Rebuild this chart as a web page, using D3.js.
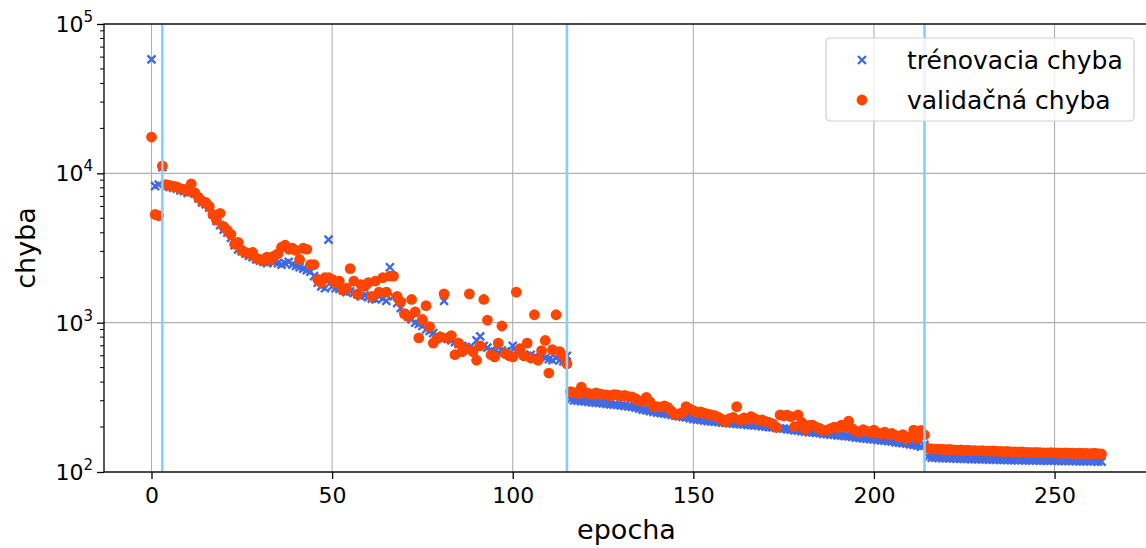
<!DOCTYPE html>
<html>
<head>
<meta charset="utf-8">
<script src="https://cdn.jsdelivr.net/npm/d3@7"></script>
<style>
  body { margin: 0; background: #fff; }
  svg { font-family: 'DejaVu Sans', sans-serif; }
</style>
</head>
<body>
<svg id="chart" width="1146" height="548"></svg>
<script>
// data
const trainErr = [
  58000, 8200, 8400, 11000, 8200, 8100, 8000, 7900, 7700, 7600,
  7400, 7500, 7300, 6800, 6400, 6200, 5900, 5300, 4800, 4500,
  4200, 4000, 3700, 3300, 3100, 3000, 2900, 2800, 2750, 2650,
  2600, 2550, 2500, 2600, 2550, 2500, 2450, 2500, 2550, 2450,
  2400, 2350, 2300, 2250, 2200, 2050, 1850, 1750, 1700, 3600,
  1750, 1700, 1680, 1650, 1600, 1620, 1580, 1550, 1500, 1520,
  1480, 1450, 1430, 1500, 1450, 1400, 2350, 1500, 1350, 1250,
  1150, 1100, 1050, 1000, 980, 950, 900, 880, 850, 820,
  800, 1400, 780, 760, 740, 720, 700, 690, 680, 670,
  760, 810, 700, 680, 650, 640, 630, 650, 640, 620,
  700, 640, 620, 610, 600, 610, 590, 580, 600, 580,
  570, 560, 580, 560, 550, 600, 305, 302, 300, 298,
  297, 295, 293, 291, 290, 288, 286, 284, 283, 281,
  279, 277, 275, 273, 270, 266, 262, 259, 256, 253,
  250, 248, 246, 244, 241, 238, 236, 234, 232, 229,
  226, 224, 223, 221, 219, 218, 217, 216, 214, 213,
  212, 211, 210, 209, 208, 207, 206, 205, 204, 202,
  201, 200, 199, 197, 196, 195, 193, 192, 190, 189,
  188, 186, 185, 184, 183, 182, 180, 179, 178, 177,
  176, 175, 174, 173, 172, 170, 169, 168, 167, 166,
  165, 164, 163, 162, 161, 160, 158, 157, 156, 155,
  153, 152, 150, 148, 152, 126, 125, 125, 124.5, 124,
  124, 123.5, 123.5, 123, 123, 122.5, 122.5, 122, 122, 122,
  121.5, 121.5, 121, 121, 121, 120.5, 120.5, 120.5, 120, 120,
  120, 120, 119.5, 119.5, 119.5, 119.5, 119, 119, 119, 119,
  119, 118.5, 118.5, 118.5, 118.5, 118.5, 118, 118, 118, 118,
  118, 118, 117.5, 117.5
];

const validErr = [
  17500, 5300, 5200, 11200, 8400, 8300, 8200, 8100, 7900, 7800,
  7600, 8500, 7400, 6900, 6500, 6400, 6000, 5300, 4850, 5400,
  4400, 4150, 3900, 3350, 3450, 3050, 2950, 2900, 2950, 2700,
  2650, 2600, 2750, 2650, 2800, 2900, 3200, 3300, 3100, 3150,
  3050, 2650, 3150, 3100, 2450, 2450, 1950, 1850, 2000, 2000,
  1950, 1850, 1900, 1650, 1700, 2300, 1900, 1550, 1800, 1750,
  1850, 1500, 1900, 1600, 2000, 1600, 2050, 2050, 1500, 1380,
  1150, 1100, 1430, 1180, 790, 1050, 1300, 940, 730, 780,
  800, 1560, 790, 820, 610, 730, 640, 670, 1560, 640,
  560, 700, 1430, 1040, 610, 590, 730, 950, 620, 600,
  590, 1600, 670, 600, 730, 580, 1130, 560, 650, 760,
  460, 660, 1130, 640, 600, 530, 345, 340, 335, 370,
  340, 336, 330, 338, 333, 330, 328, 325, 330, 328,
  322, 326, 320, 318, 310, 298, 300, 316, 295, 275,
  274, 272, 277, 270, 255, 242, 245, 250, 274, 265,
  258, 250, 253, 248, 244, 241, 238, 232, 225, 217,
  228, 232, 274, 223, 230, 225, 235, 228, 222, 223,
  218, 215, 210, 199, 241, 238, 240, 235, 201, 241,
  215, 193, 205, 206, 200, 196, 190, 191, 195, 200,
  198, 206, 200, 219, 195, 188, 186, 192, 188, 185,
  191, 183, 180, 185, 178, 181, 176, 172, 178, 166,
  172, 191, 168, 190, 177, 144, 143, 142, 142.5, 141.5,
  141, 141.5, 140.5, 140, 140.5, 139.5, 140, 139, 139, 138.5,
  139, 138, 138, 138.5, 137.5, 137.5, 137, 137.5, 136.5, 136.5,
  136, 136.5, 135.5, 135.5, 135, 135.5, 135, 134.5, 134.5, 135,
  134, 134, 133.5, 134, 133.5, 133.5, 133, 133.5, 133, 133,
  132.5, 133.5, 132.5, 132
];

const epochs = trainErr.map((d, i) => i);
const phaseLines = [3, 115, 214];
const xTicks = [0, 50, 100, 150, 200, 250];
const yTicks = [100, 1000, 10000, 100000];
const legendLabels = ['trénovacia chyba', 'validačná chyba'];

const blue = '#4169e1';
const orange = '#ff4500';
const cross = 'M-4,-4L4,4M-4,4L4,-4';

const svg = d3.select('#chart');
const margin = { left: 104, top: 24, right: -3, bottom: 76 };
const W = 1146, H = 548;

const x = d3.scaleLinear().domain([-13.15, 276.15]).range([margin.left, W - margin.right]);
const y = d3.scaleLog().domain([100, 100000]).range([H - margin.bottom, margin.top]);

// grid
const grid = svg.append('g').attr('stroke', '#b0b0b0').attr('stroke-width', 1.1);
grid.selectAll('line.gx').data(xTicks).join('line')
  .attr('x1', d => x(d)).attr('x2', d => x(d))
  .attr('y1', y.range()[0]).attr('y2', y.range()[1]);
grid.selectAll('line.gy').data(yTicks).join('line')
  .attr('x1', x.range()[0]).attr('x2', x.range()[1])
  .attr('y1', d => y(d)).attr('y2', d => y(d));

// training error: x markers
svg.append('g').selectAll('path').data(epochs).join('path')
  .attr('d', cross)
  .attr('transform', i => `translate(${x(i)},${y(trainErr[i])})`)
  .attr('stroke', blue).attr('stroke-width', 2.4).attr('fill', 'none');

// validation error: dots
svg.append('g').selectAll('circle').data(epochs).join('circle')
  .attr('cx', i => x(i)).attr('cy', i => y(validErr[i])).attr('r', 5.4)
  .attr('fill', orange);

// phase lines
svg.append('g').selectAll('line').data(phaseLines).join('line')
  .attr('x1', d => x(d)).attr('x2', d => x(d))
  .attr('y1', y.range()[0]).attr('y2', y.range()[1])
  .attr('stroke', '#87cefa').attr('stroke-width', 2.6);

// spines
svg.append('rect')
  .attr('x', x.range()[0]).attr('y', y.range()[1])
  .attr('width', x.range()[1] - x.range()[0]).attr('height', y.range()[0] - y.range()[1])
  .attr('fill', 'none').attr('stroke', '#000').attr('stroke-width', 1.3);

// x axis
const xAxis = svg.append('g')
  .attr('transform', `translate(0,${y.range()[0]})`)
  .call(d3.axisBottom(x).tickValues(xTicks).tickSize(7).tickPadding(8));
xAxis.select('.domain').remove();
xAxis.selectAll('line').attr('stroke-width', 1.3);
xAxis.selectAll('text').attr('font-size', 22).attr('font-family', 'DejaVu Sans').attr('fill', '#000');

// y axis: minor ticks
const minor = [];
[100, 1000, 10000].forEach(base => { for (let k = 2; k <= 9; k++) minor.push(base * k); });
svg.append('g').selectAll('line').data(minor).join('line')
  .attr('x1', x.range()[0] - 4).attr('x2', x.range()[0])
  .attr('y1', d => y(d)).attr('y2', d => y(d))
  .attr('stroke', '#000').attr('stroke-width', 1);

const yAxis = svg.append('g')
  .attr('transform', `translate(${x.range()[0]},0)`)
  .call(d3.axisLeft(y).tickValues(yTicks).tickSize(7).tickFormat(''));
yAxis.select('.domain').remove();
yAxis.selectAll('line').attr('stroke-width', 1.3);

const yLab = svg.append('g').selectAll('text').data(yTicks).join('text')
  .attr('x', x.range()[0] - 11).attr('y', d => y(d) + 8)
  .attr('text-anchor', 'end').attr('font-size', 22).attr('fill', '#000');
yLab.append('tspan').text('10');
yLab.append('tspan').attr('font-size', 15).attr('dy', -10).text(d => Math.round(Math.log10(d)));

// axis labels
svg.append('text')
  .attr('x', (x.range()[0] + x.range()[1]) / 2).attr('y', 539)
  .attr('text-anchor', 'middle').attr('font-size', 27).text('epocha');
svg.append('text')
  .attr('transform', `translate(35,${(y.range()[0] + y.range()[1]) / 2}) rotate(-90)`)
  .attr('text-anchor', 'middle').attr('font-size', 27).text('chyba');

// legend
const legend = svg.append('g').attr('transform', 'translate(826,38)');
legend.append('rect')
  .attr('width', 308).attr('height', 83).attr('rx', 4)
  .attr('fill', 'rgba(255,255,255,0.8)').attr('stroke', '#d0d0d0').attr('stroke-width', 1.2);
legend.append('path')
  .attr('d', cross)
  .attr('transform', 'translate(36,22)')
  .attr('stroke', blue).attr('stroke-width', 2.4);
legend.append('circle').attr('cx', 36).attr('cy', 62).attr('r', 5.4).attr('fill', orange);
legend.selectAll('text').data(legendLabels).join('text')
  .attr('x', 81).attr('y', (d, i) => 31 + i * 40)
  .attr('font-size', 25).attr('fill', '#000').text(d => d);
</script>
</body>
</html>
